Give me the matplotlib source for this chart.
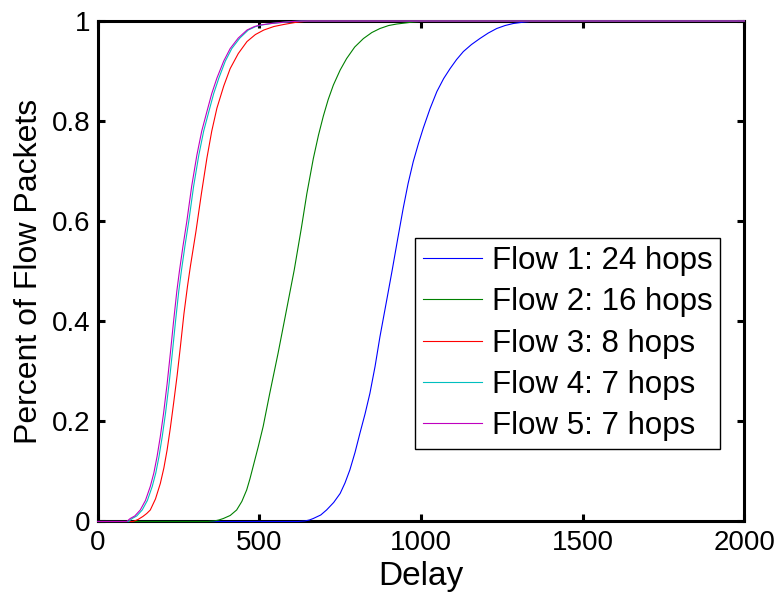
import matplotlib
matplotlib.use('Agg')
import matplotlib.pyplot as plt
from matplotlib.ticker import FuncFormatter

plt.rcParams['font.family'] = ['Liberation Sans', 'DejaVu Sans']

# delay values (CDF of per-flow packet delay)
flow1_x = [0, 620, 640, 655, 667, 690, 708, 730, 750, 765, 780, 796, 811, 827, 842, 858,
           873, 894, 911, 928, 945, 960, 976, 992, 1007, 1028, 1049, 1070, 1090, 1110,
           1131, 1156, 1182, 1208, 1234, 1260, 1285, 1320, 1350, 2000]
flow1_y = [0, 0, 0.001, 0.003, 0.006, 0.013, 0.023, 0.038, 0.056, 0.077, 0.103, 0.138,
           0.176, 0.215, 0.256, 0.31, 0.369, 0.4425, 0.5025, 0.565, 0.626, 0.675, 0.719,
           0.755, 0.786, 0.825, 0.859, 0.885, 0.905, 0.923, 0.939, 0.953, 0.965, 0.976,
           0.985, 0.991, 0.995, 0.998, 1.0, 1.0]

flow2_x = [0, 340, 360, 375, 389, 410, 430, 446, 461, 471, 481, 497, 512, 532, 558, 580,
           596, 608, 630, 647, 667, 683, 698, 713, 729, 750, 770, 795, 822, 848, 873,
           900, 925, 976, 1010, 2000]
flow2_y = [0, 0, 0.001, 0.003, 0.006, 0.012, 0.023, 0.04, 0.063, 0.085, 0.11, 0.15, 0.19,
           0.255, 0.336, 0.409, 0.4625, 0.5025, 0.586, 0.655, 0.725, 0.772, 0.81, 0.843,
           0.872, 0.902, 0.925, 0.948, 0.965, 0.977, 0.985, 0.991, 0.994, 0.998, 1.0, 1.0]

flow3_x = [0, 110, 125, 140, 152, 163, 179, 194, 205, 215, 225, 235, 246, 256, 267, 278,
           287, 304, 321, 338, 353, 369, 390, 410, 435, 462, 488, 514, 545, 575, 610,
           650, 2000]
flow3_y = [0, 0, 0.004, 0.01, 0.016, 0.023, 0.045, 0.076, 0.107, 0.143, 0.187, 0.236,
           0.292, 0.349, 0.415, 0.47, 0.51, 0.579, 0.655, 0.726, 0.78, 0.826, 0.87, 0.905,
           0.935, 0.959, 0.973, 0.982, 0.989, 0.993, 0.997, 1.0, 1.0]

flow4_x = [0, 96, 107, 121, 138, 154, 169, 180, 190, 200, 210, 221, 231, 241, 251, 259,
           270, 282, 297, 313, 328, 344, 359, 375, 395, 415, 440, 466, 489, 507, 538,
           568, 602, 632, 2000]
flow4_y = [0, 0, 0.006, 0.011, 0.023, 0.042, 0.07, 0.097, 0.13, 0.17, 0.216, 0.275,
           0.336, 0.4, 0.46, 0.5, 0.55, 0.6, 0.67, 0.732, 0.78, 0.819, 0.855, 0.886, 0.92,
           0.945, 0.966, 0.982, 0.989, 0.992, 0.995, 0.997, 0.999, 1.0, 1.0]

flow5_x = [0, 90, 101, 115, 132, 148, 163, 174, 184, 194, 204, 215, 225, 235, 245, 253,
           264, 276, 291, 307, 322, 338, 353, 369, 390, 410, 435, 462, 485, 503, 535,
           565, 600, 630, 2000]
flow5_y = [0, 0, 0.006, 0.011, 0.023, 0.042, 0.07, 0.097, 0.13, 0.17, 0.216, 0.275,
           0.336, 0.4, 0.46, 0.5, 0.55, 0.6, 0.67, 0.732, 0.78, 0.819, 0.855, 0.886, 0.92,
           0.945, 0.966, 0.982, 0.989, 0.992, 0.995, 0.997, 0.999, 1.0, 1.0]

labels = ['Flow 1: 24 hops', 'Flow 2: 16 hops', 'Flow 3: 8 hops',
          'Flow 4: 7 hops', 'Flow 5: 7 hops']
colors = ['#0000ff', '#008000', '#ff0000', '#00bfbf', '#bf00bf']

fig = plt.figure(figsize=(7.8, 5.92), dpi=100)
ax = fig.add_axes([0.1251, 0.1191, 0.8293, 0.8454])

series = [(flow1_x, flow1_y), (flow2_x, flow2_y), (flow3_x, flow3_y),
          (flow4_x, flow4_y), (flow5_x, flow5_y)]
for (xs, ys), lab, col in zip(series, labels, colors):
    ax.plot(xs, ys, color=col, lw=0.8, label=lab, clip_on=False, zorder=3)

ax.set_xlim(0, 2000)
ax.set_ylim(0, 1)
ax.set_xticks([0, 500, 1000, 1500, 2000])
ax.set_yticks([0, 0.2, 0.4, 0.6, 0.8, 1])
ax.yaxis.set_major_formatter(FuncFormatter(lambda v, p: ('%g' % v)))

for s in ax.spines.values():
    s.set_linewidth(2.2)
ax.tick_params(direction='in', length=5, width=2.2, labelsize=20,
               top=True, right=True)
ax.tick_params(axis='x', pad=6)
ax.tick_params(axis='y', pad=5)

ax.set_xlabel('Delay', fontsize=24, labelpad=4)
ax.set_ylabel('Percent of Flow Packets', fontsize=23, labelpad=6)

leg = ax.legend(loc='lower left', bbox_to_anchor=(0.491, 0.145), borderaxespad=0,
                fontsize=22.5, fancybox=False, edgecolor='black', framealpha=1,
                handlelength=1.9, handletextpad=0.3, labelspacing=0.36,
                borderpad=0.25)
leg.get_frame().set_linewidth(1.0)

fig.savefig('out.png', dpi=100)
